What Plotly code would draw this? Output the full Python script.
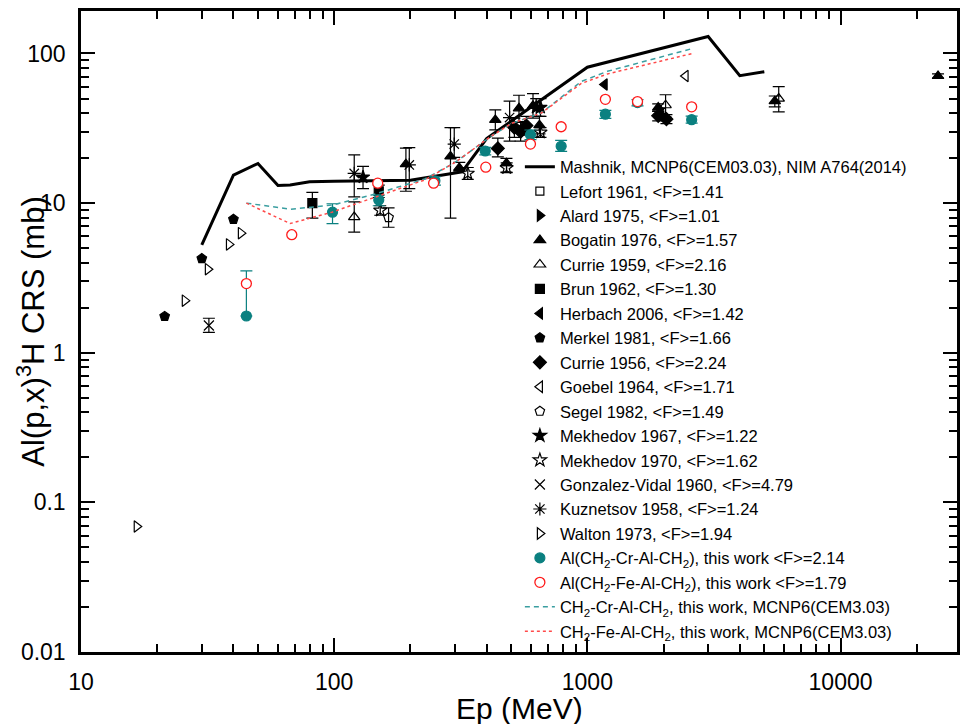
import plotly.graph_objects as go

# ---------------- data ----------------
mashnik_x = [30, 40, 50, 60, 67, 80, 100, 150, 200, 300, 320, 400, 1000, 3000, 4000, 5000]
mashnik_y = [5.25, 15.4, 18.4, 13.1, 13.2, 13.9, 14.0, 14.1, 14.2, 15.9, 16.2, 27.0, 81.0, 130.0, 71.0, 75.5]

cr_calc_x = [45, 67, 98, 145, 228, 300, 417, 500, 658, 946, 1200, 2600]
cr_calc_y = [10.0, 9.1, 9.7, 11.5, 14.5, 18.7, 28.0, 34.0, 40.0, 65.0, 76.0, 108.0]
fe_calc_x = [45, 67, 98, 145, 228, 300, 417, 500, 658, 946, 1200, 2600]
fe_calc_y = [10.0, 7.3, 8.7, 11.0, 14.3, 18.7, 28.0, 34.0, 40.0, 63.0, 73.0, 100.0]

lefort_x, lefort_y = [None], [None]
alard_x, alard_y = [None], [None]

bogatin_x = [192, 288, 312, 433, 479, 537, 610, 647, 1905, 1935, 5500, 24270]
bogatin_y = [18.2, 20.5, 17.2, 36.0, 18.5, 43.0, 44.7, 33.2, 43.5, 40.3, 48.0, 70.7]
bogatin_hi = [23.3, 32.0, 18.7, 42.0, 19.9, 52.6, 54.0, 38.0, 46.0, 43.0, 52.0, 73.0]
bogatin_lo = [12.0, 7.95, 16.2, 30.9, 16.1, 34.6, 37.0, 29.0, 41.0, 37.5, 44.0, 68.5]

currie59_x = [120, 2037, 5700]
currie59_y = [8.07, 45.1, 50.0]
currie59_hi = [10.2, 53.0, 60.0]
currie59_lo = [6.4, 37.6, 40.7]

brun_x = [82, 150]
brun_y = [10.0, 12.0]
brun_hi = [11.8, 13.2]
brun_lo = [7.95, 10.9]

herbach_x = [1170]
herbach_y = [62.0]

merkel_x = [21.4, 30, 40]
merkel_y = [1.75, 4.26, 7.8]

currie56_x = [443, 515, 545, 574, 1905, 2053]
currie56_y = [23.2, 32.0, 30.0, 33.0, 38.3, 36.4]
currie56_hi = [27.2, 37.0, 35.0, 38.0, 41.0, 39.0]
currie56_lo = [20.4, 27.5, 26.0, 28.5, 35.5, 34.0]

goebel_x = [2443]
goebel_y = [70.7]

segel_x = [164]
segel_y = [8.0]
segel_hi = [9.3]
segel_lo = [6.9]

mekh67_x = [130, 628, 653]
mekh67_y = [14.9, 43.6, 43.6]
mekh67_hi = [17.6, 50.0, 50.0]
mekh67_lo = [12.5, 38.0, 38.0]

mekh70_x = [152, 337, 480, 653]
mekh70_y = [8.95, 15.8, 17.2, 29.7]
mekh70_hi = [9.6, 17.3, 18.6, 32.0]
mekh70_lo = [8.3, 14.4, 16.0, 27.5]

gonzalez_x = [32]
gonzalez_y = [1.52]
gonzalez_hi = [1.70]
gonzalez_lo = [1.37]

kuznetsov_x = [120, 198, 298, 493]
kuznetsov_y = [15.8, 18.0, 24.8, 37.3]
kuznetsov_hi = [21.0, 23.5, 32.0, 48.0]
kuznetsov_lo = [11.0, 12.5, 20.2, 26.0]

walton_x = [16.6, 25.7, 31.7, 38.4, 42.8]
walton_y = [0.069, 2.23, 3.62, 5.3, 6.3]

alcr_x = [45, 98.5, 150, 250, 395, 596, 788, 1178, 1578, 2582]
alcr_y = [1.76, 8.7, 10.5, 14.1, 22.3, 28.6, 24.0, 39.3, 47.0, 36.1]
alcr_hi = [3.52, 9.9, 11.3, 15.0, 23.6, 30.8, 26.3, 41.7, 49.2, 38.1]
alcr_lo = [1.76, 7.3, 9.6, 13.2, 21.0, 26.6, 22.2, 36.9, 44.6, 34.2]

alfe_x = [45, 68, 148.6, 247, 397, 596, 788, 1178, 1578, 2582]
alfe_y = [2.9, 6.15, 13.6, 13.6, 17.4, 24.8, 32.4, 49.4, 47.7, 44.0]

x_ticks = [10, 100, 1000, 10000]
x_ticktext = ["10", "100", "1000", "10000"]
y_ticks = [0.01, 0.1, 1, 10, 100]
y_ticktext = ["0.01", "0.1", "1", "10", "100"]

x_title = "Ep (MeV)"
y_title = "Al(p,x)<sup>3</sup>H CRS (mb)"

# ---------------- figure ----------------
FONT = "Liberation Sans, Arial, sans-serif"
TEAL = "#0b8080"
fig = go.Figure()


def err(y, hi, lo, color="black"):
    return dict(type="data", symmetric=False,
                array=[h - v for h, v in zip(hi, y)],
                arrayminus=[v - l for v, l in zip(y, lo)],
                color=color, thickness=1.2, width=6)


def pts(name, x, y, symbol, size=10, color="black", fill=None, lw=1.2,
        hi=None, lo=None, ecolor="black"):
    marker = dict(symbol=symbol, size=size, color=fill if fill else color,
                  line=dict(color=color, width=lw))
    kw = {}
    if hi is not None:
        kw["error_y"] = err(y, hi, lo, ecolor)
    fig.add_trace(go.Scatter(x=x, y=y, mode="markers", name=name,
                             marker=marker, **kw))


fig.add_trace(go.Scatter(x=mashnik_x, y=mashnik_y, mode="lines",
                         name="Mashnik, MCNP6(CEM03.03), NIM A764(2014)",
                         line=dict(color="black", width=3)))

pts("Lefort 1961, &lt;F&gt;=1.41", lefort_x, lefort_y, "square-open", size=8)
pts("Alard 1975, &lt;F&gt;=1.01", alard_x, alard_y, "triangle-right")
pts("Bogatin 1976, &lt;F&gt;=1.57", bogatin_x, bogatin_y, "triangle-up",
    hi=bogatin_hi, lo=bogatin_lo)
pts("Currie 1959, &lt;F&gt;=2.16", currie59_x, currie59_y, "triangle-up-open",
    hi=currie59_hi, lo=currie59_lo)
pts("Brun 1962, &lt;F&gt;=1.30", brun_x, brun_y, "square", size=9,
    hi=brun_hi, lo=brun_lo)
pts("Herbach 2006, &lt;F&gt;=1.42", herbach_x, herbach_y, "triangle-left")
pts("Merkel 1981, &lt;F&gt;=1.66", merkel_x, merkel_y, "pentagon")
pts("Currie 1956, &lt;F&gt;=2.24", currie56_x, currie56_y, "diamond",
    hi=currie56_hi, lo=currie56_lo)
pts("Goebel 1964, &lt;F&gt;=1.71", goebel_x, goebel_y, "triangle-left-open")
pts("Segel 1982, &lt;F&gt;=1.49", segel_x, segel_y, "pentagon-open",
    hi=segel_hi, lo=segel_lo)
pts("Mekhedov 1967, &lt;F&gt;=1.22", mekh67_x, mekh67_y, "star", size=10,
    hi=mekh67_hi, lo=mekh67_lo)
pts("Mekhedov 1970, &lt;F&gt;=1.62", mekh70_x, mekh70_y, "star-open", size=10,
    hi=mekh70_hi, lo=mekh70_lo)
pts("Gonzalez-Vidal 1960, &lt;F&gt;=4.79", gonzalez_x, gonzalez_y, "x-thin-open",
    size=10, hi=gonzalez_hi, lo=gonzalez_lo)
pts("Kuznetsov 1958, &lt;F&gt;=1.24", kuznetsov_x, kuznetsov_y, "asterisk-open",
    size=11, hi=kuznetsov_hi, lo=kuznetsov_lo)
pts("Walton 1973, &lt;F&gt;=1.94", walton_x, walton_y, "triangle-right-open")
pts("Al(CH<sub>2</sub>-Cr-Al-CH<sub>2</sub>), this work &lt;F&gt;=2.14",
    alcr_x, alcr_y, "circle", size=10, color=TEAL,
    hi=alcr_hi, lo=alcr_lo, ecolor=TEAL)
pts("Al(CH<sub>2</sub>-Fe-Al-CH<sub>2</sub>), this work &lt;F&gt;=1.79",
    alfe_x, alfe_y, "circle", size=10, color="#ff1a1a", fill="white", lw=1.3)

fig.add_trace(go.Scatter(x=cr_calc_x, y=cr_calc_y, mode="lines",
                         name="CH<sub>2</sub>-Cr-Al-CH<sub>2</sub>, this work, MCNP6(CEM3.03)",
                         line=dict(color="#3a9ea0", width=1.5, dash="5px,4px")))
fig.add_trace(go.Scatter(x=fe_calc_x, y=fe_calc_y, mode="lines",
                         name="CH<sub>2</sub>-Fe-Al-CH<sub>2</sub>, this work, MCNP6(CEM3.03)",
                         line=dict(color="#ff4a4a", width=1.5, dash="dot")))

minor_x = [m * 10 ** e for e in range(1, 5) for m in range(2, 10)]
minor_y = [m * 10.0 ** e for e in range(-2, 3) for m in range(2, 10)]

axis_common = dict(showline=True, linecolor="black", linewidth=2.5,
                   mirror="allticks", ticks="inside", ticklen=14, tickwidth=2,
                   tickcolor="black", showgrid=False, zeroline=False,
                   ticklabelstandoff=8,
                   tickfont=dict(family=FONT, size=23, color="black"))
minor_common = dict(tickmode="array", ticks="inside", ticklen=8, tickwidth=2,
                    tickcolor="black", showgrid=False)

fig.update_xaxes(type="log", range=[1, 4.46], tickmode="array",
                 tickvals=x_ticks, ticktext=x_ticktext,
                 minor=dict(tickvals=minor_x, **minor_common),
                 **axis_common)
fig.update_yaxes(type="log", range=[-2, 2.284], tickmode="array",
                 tickvals=y_ticks, ticktext=y_ticktext,
                 minor=dict(tickvals=minor_y, **minor_common),
                 **axis_common)

fig.add_annotation(text=x_title, xref="paper", yref="paper", x=0.5, y=-0.088,
                   xanchor="center", yanchor="middle", showarrow=False,
                   font=dict(family=FONT, size=30, color="black"))
fig.add_annotation(text=y_title, xref="paper", yref="paper", x=-0.058, y=0.5,
                   xanchor="center", yanchor="middle", showarrow=False,
                   textangle=-90,
                   font=dict(family=FONT, size=31, color="black"))

fig.update_layout(
    width=970, height=724,
    margin=dict(l=73, r=21, t=0, b=80),
    paper_bgcolor="white", plot_bgcolor="white",
    showlegend=True,
    legend=dict(x=0.501, y=0.784, xanchor="left", yanchor="top",
                bgcolor="rgba(0,0,0,0)", borderwidth=0,
                font=dict(family=FONT, size=16.5, color="black"),
                itemsizing="trace", tracegroupgap=0),
    font=dict(family=FONT, color="black"),
)

fig.write_html("out.html")
